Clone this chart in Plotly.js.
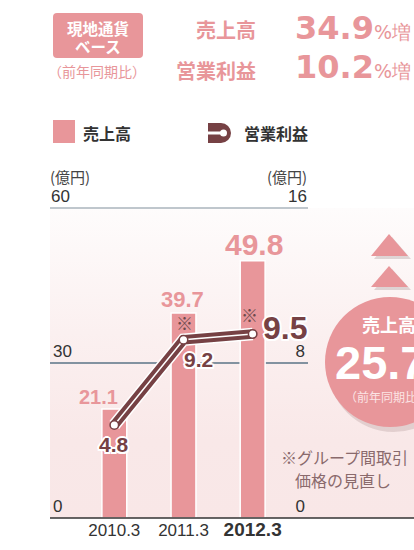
<!DOCTYPE html>
<html>
<head>
<meta charset="utf-8">
<script src="https://cdn.plot.ly/plotly-3.0.1.min.js"></script>
<style>
  html, body { margin: 0; padding: 0; background: #ffffff; }
  #wrap { position: relative; width: 414px; height: 550px; overflow: hidden; }
  #bg { position: absolute; left: 50px; top: 208px; width: 364px; height: 310px;
        background: linear-gradient(to bottom, #fefcfc 0%, #fbf0f0 40%, #f9e8e8 75%, #f9e7e7 100%); }
  #chart { position: absolute; left: 0; top: 0; width: 414px; height: 550px; }
</style>
</head>
<body>
<div id="wrap"><div id="bg"></div><div id="chart"></div></div>
<script>
// ---- data ----
const categories = ['2010.3', '2011.3', '2012.3'];
const sales = [21.1, 39.7, 49.8];          // 売上高 (億円, left axis)
const operatingProfit = [4.8, 9.2, 9.5];   // 営業利益 (億円, right axis)
const noteMarks = [false, true, true];     // ※ グループ間取引価格の見直し
const leftTicks = [0, 30, 60];
const rightTicks = [0, 8, 16];
const salesGrowth = '34.9';
const profitGrowth = '10.2';
const salesGrowthLocal = '25.7';

// ---- styling ----
const PINK = '#e8969a';
const DARK = '#764144';
const JP = '"Noto Sans CJK JP", sans-serif';
const NUM = '"Liberation Sans", Arial, sans-serif';
const WIDE = '"DejaVu Sans", sans-serif';
const halo = '2px 0 0 #fff, -2px 0 0 #fff, 0 2px 0 #fff, 0 -2px 0 #fff, 1.5px 1.5px 0 #fff, -1.5px -1.5px 0 #fff, 1.5px -1.5px 0 #fff, -1.5px 1.5px 0 #fff';

const L = 50, R = 308, T = 208, B = 518;
const px = x => (x - L) / (R - L);
const py = y => (B - y) / (B - T);

const xs = categories.map((_, i) => i);

const traces = [
  { type: 'bar', x: xs, y: sales, width: 0.36, yaxis: 'y',
    marker: { color: PINK, line: { color: '#ffffff', width: 1.5 } }, hoverinfo: 'skip' },
  { type: 'scatter', mode: 'lines', x: xs, y: operatingProfit, yaxis: 'y2',
    line: { color: '#ffffff', width: 12.5 }, hoverinfo: 'skip' },
  { type: 'scatter', mode: 'lines', x: xs, y: operatingProfit, yaxis: 'y2',
    line: { color: DARK, width: 9.5 }, hoverinfo: 'skip' },
  { type: 'scatter', mode: 'lines+markers', x: xs, y: operatingProfit, yaxis: 'y2',
    line: { color: '#ffffff', width: 1.5 },
    marker: { color: '#ffffff', size: 8.5, line: { color: DARK, width: 1.5 } }, hoverinfo: 'skip' }
];

// value label styles
const salesLabelStyle = [
  { size: 20, dx: -16, dy: 12 },
  { size: 22, dx: -1, dy: 13 },
  { size: 30, dx: 1, dy: 16 }
];
const profitLabelStyle = [
  { size: 21, dx: 0, dy: -19 },
  { size: 21, dx: 15, dy: -20 },
  { size: 32, dx: 32, dy: 6 }
];

const annotations = [];
sales.forEach((v, i) => {
  const s = salesLabelStyle[i];
  annotations.push({ xref: 'x', yref: 'y', x: xs[i], y: v, text: '<b>' + v.toFixed(1) + '</b>',
    showarrow: false, xanchor: 'center', yanchor: 'middle', xshift: s.dx, yshift: s.dy,
    font: { family: NUM, size: s.size, color: PINK } });
});
operatingProfit.forEach((v, i) => {
  const s = profitLabelStyle[i];
  annotations.push({ xref: 'x', yref: 'y2', x: xs[i], y: v, text: '<b>' + v.toFixed(1) + '</b>',
    showarrow: false, xanchor: 'center', yanchor: 'middle', xshift: s.dx, yshift: s.dy,
    font: { family: NUM, size: s.size, color: DARK, shadow: halo } });
  if (noteMarks[i]) {
    annotations.push({ xref: 'x', yref: 'y2', x: xs[i], y: v, text: '※',
      showarrow: false, xanchor: 'center', yanchor: 'middle', xshift: i === 2 ? -3 : 1, yshift: i === 2 ? 19 : 17,
      font: { family: JP, size: 17, color: '#6e4a4c' } });
  }
});
// top tick labels of both axes
annotations.push({ xref: 'paper', yref: 'y', x: 0, y: leftTicks[leftTicks.length - 1], text: String(leftTicks[leftTicks.length - 1]),
  showarrow: false, xanchor: 'left', yanchor: 'bottom', yshift: 0, xshift: -1,
  font: { family: NUM, size: 17, color: '#333333' } });
annotations.push({ xref: 'paper', yref: 'y2', x: 1, y: rightTicks[rightTicks.length - 1], text: String(rightTicks[rightTicks.length - 1]),
  showarrow: false, xanchor: 'right', yanchor: 'bottom', yshift: 0, xshift: 1,
  font: { family: NUM, size: 17, color: '#333333' } });

function A(text, x, y, opts) {
  annotations.push(Object.assign({ xref: 'paper', yref: 'paper', x: px(x), y: py(y), text: text,
    showarrow: false, xanchor: 'left', yanchor: 'middle' }, opts || {}));
}
// header
A('<b>現地通貨</b>', 98, 27.5, { xanchor: 'center', font: { family: JP, size: 15.5, color: '#ffffff' } });
A('<b>ベース</b>', 98, 46, { xanchor: 'center', font: { family: JP, size: 15.5, color: '#ffffff' } });
A('（前年同期比）', 97, 71, { xanchor: 'center', font: { family: JP, size: 14, color: PINK } });
A('<b>売上高</b>', 258, 29, { xanchor: 'right', font: { family: JP, size: 20, color: PINK } });
A('<b>営業利益</b>', 258, 70, { xanchor: 'right', font: { family: JP, size: 20, color: PINK } });
A('<b>' + salesGrowth + '</b><span style="font-size:19px">%増</span>', 293, 28, { font: { family: WIDE, size: 32, color: PINK } });
A('<b>' + profitGrowth + '</b><span style="font-size:19px">%増</span>', 293, 67, { font: { family: WIDE, size: 32, color: PINK } });
// legend
A('<b>売上高</b>', 81, 133, { font: { family: JP, size: 16, color: '#333333' } });
A('<b>営業利益</b>', 242, 133, { font: { family: JP, size: 16, color: '#333333' } });
// axis unit titles
A('(億円)', 48, 177, { font: { family: JP, size: 15, color: '#444444' } });
A('(億円)', 309, 177, { xanchor: 'right', font: { family: JP, size: 15, color: '#444444' } });
// footnote
A('※グループ間取引', 344, 457, { xanchor: 'center', font: { family: JP, size: 16, color: '#8a6a6c' } });
A('価格の見直し', 343, 480, { xanchor: 'center', font: { family: JP, size: 16, color: '#8a6a6c' } });
// circle badge
A('<b>売上高</b>', 389, 324, { xanchor: 'center', font: { family: JP, size: 18, color: '#ffffff' } });
A('<b>' + salesGrowthLocal + '</b><span style="font-size:20px">%増</span>', 333, 362, { font: { family: NUM, size: 47, color: '#ffffff' } });
A('（前年同期比）', 343, 396, { font: { family: JP, size: 12, color: '#fbe4e4' } });

function rr(x0, y0, x1, y1, r) {
  const X = v => px(v).toFixed(5), Y = v => py(v).toFixed(5);
  return 'M' + X(x0 + r) + ',' + Y(y0) + ' L' + X(x1 - r) + ',' + Y(y0) +
    ' Q' + X(x1) + ',' + Y(y0) + ' ' + X(x1) + ',' + Y(y0 + r) +
    ' L' + X(x1) + ',' + Y(y1 - r) + ' Q' + X(x1) + ',' + Y(y1) + ' ' + X(x1 - r) + ',' + Y(y1) +
    ' L' + X(x0 + r) + ',' + Y(y1) + ' Q' + X(x0) + ',' + Y(y1) + ' ' + X(x0) + ',' + Y(y1 - r) +
    ' L' + X(x0) + ',' + Y(y0 + r) + ' Q' + X(x0) + ',' + Y(y0) + ' ' + X(x0 + r) + ',' + Y(y0) + ' Z';
}
function tri(ax, ay, bx0, bx1, by) {
  return 'M' + px(ax) + ',' + py(ay) + ' L' + px(bx1) + ',' + py(by) + ' L' + px(bx0) + ',' + py(by) + ' Z';
}
const S = (o) => Object.assign({ xref: 'paper', yref: 'paper', layer: 'above' }, o);
const shapes = [
  S({ type: 'line', x0: 0, x1: 1, y0: 1, y1: 1, line: { color: '#aab4bc', width: 1.5 }, layer: 'below' }),
  S({ type: 'line', x0: 0, x1: px(100), y0: py(363), y1: py(363), line: { color: '#cfd5da', width: 1.5 }, layer: 'below' }),
  S({ type: 'line', x0: 0, x1: px(414), y0: 0, y1: 0, line: { color: '#333333', width: 1.5 } }),
  S({ type: 'path', path: rr(53, 13, 143, 58, 4), fillcolor: PINK, line: { width: 0 } }),
  S({ type: 'rect', x0: px(53), x1: px(75), y0: py(120), y1: py(143), fillcolor: PINK, line: { width: 0 } }),
  S({ type: 'rect', x0: px(208), x1: px(221), y0: py(123), y1: py(143), fillcolor: DARK, line: { width: 0 } }),
  S({ type: 'circle', x0: px(211), x1: px(231), y0: py(123), y1: py(143), fillcolor: DARK, line: { width: 0 } }),
  S({ type: 'rect', x0: px(208), x1: px(222), y0: py(131.5), y1: py(134.5), fillcolor: '#ffffff', line: { width: 0 } }),
  S({ type: 'circle', x0: px(220), x1: px(227), y0: py(129.5), y1: py(136.5), fillcolor: '#ffffff', line: { width: 0 } }),
  S({ type: 'path', path: tri(392, 237, 374, 411, 259), fillcolor: 'rgba(120,90,90,0.22)', line: { width: 0 } }),
  S({ type: 'path', path: tri(389, 234, 371, 408, 256), fillcolor: PINK, line: { width: 0 } }),
  S({ type: 'path', path: tri(392, 269, 374, 411, 290), fillcolor: 'rgba(120,90,90,0.22)', line: { width: 0 } }),
  S({ type: 'path', path: tri(389, 266, 371, 408, 287), fillcolor: PINK, line: { width: 0 } }),
  S({ type: 'circle', x0: px(328), x1: px(459), y0: py(301), y1: py(432), fillcolor: 'rgba(120,90,90,0.18)', line: { width: 0 } }),
  S({ type: 'circle', x0: px(325), x1: px(455), y0: py(297), y1: py(427), fillcolor: PINK, line: { width: 0 } })
];

const layout = {
  width: 414, height: 550,
  margin: { l: L, r: 414 - R, t: T, b: 550 - B, pad: 0 },
  paper_bgcolor: 'rgba(0,0,0,0)', plot_bgcolor: 'rgba(0,0,0,0)',
  showlegend: false, bargap: 0,
  xaxis: { range: [-0.93, 2.80], tickvals: xs,
    ticktext: categories.map((c, i) => i === categories.length - 1 ? '<span style="font-size:19px"><b>' + c + '</b></span>' : c),
    showgrid: false, zeroline: false, showline: false, ticks: '', fixedrange: true,
    tickfont: { family: NUM, size: 17, color: '#333333' } },
  yaxis: { range: [0, 60], tickvals: leftTicks, ticktext: leftTicks.map(String),
    ticklabelposition: 'inside top', showgrid: true, gridcolor: '#8292a0', gridwidth: 1.5,
    zeroline: false, showline: false, ticks: '', fixedrange: true,
    tickfont: { family: NUM, size: 17, color: '#333333' } },
  yaxis2: { range: [0, 16], overlaying: 'y', side: 'right', tickvals: rightTicks, ticktext: rightTicks.map(String),
    ticklabelposition: 'inside top', showgrid: false, zeroline: false, showline: false, ticks: '', fixedrange: true,
    tickfont: { family: NUM, size: 17, color: '#333333' } },
  annotations: annotations,
  shapes: shapes
};

Plotly.newPlot('chart', traces, layout, { displayModeBar: false, staticPlot: true });
</script>
</body>
</html>
